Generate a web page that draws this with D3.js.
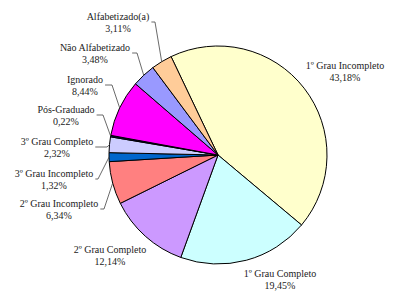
<!DOCTYPE html>
<html>
<head>
<meta charset="utf-8">
<script src="https://cdn.jsdelivr.net/npm/d3@7"></script>
<style>
body { margin: 0; background: #fff; }
text { font-family: "Liberation Serif", "Times New Roman", serif; font-size: 10px; fill: #222; }
</style>
</head>
<body>
<svg width="400" height="298"></svg>
<script>
// data, clockwise from the big slice
var categories = ["1º Grau Incompleto", "1º Grau Completo", "2º Grau Completo", "2º Grau Incompleto",
    "3º Grau Incompleto", "3º Grau Completo", "Pós-Graduado", "Ignorado", "Não Alfabetizado", "Alfabetizado(a)"];
var values = [43.18, 19.45, 12.14, 6.34, 1.32, 2.32, 0.22, 8.44, 3.48, 3.11];
var valueLabels = ["43,18%", "19,45%", "12,14%", "6,34%", "1,32%", "2,32%", "0,22%", "8,44%", "3,48%", "3,11%"];
var colors = ["#FFFFCC", "#CCFFFF", "#CC99FF", "#FF8080", "#0066CC", "#CCCCFF", "#000080", "#FF00FF", "#9999FF", "#FFCC99"];

// label layout: centre x, first line y, elbow x of leader (null = no leader)
var labelX = [345, 280, 110, 59, 54, 57, 66, 85, 95, 118];
var labelY = [65, 273, 249, 203, 173, 141, 109, 79, 47, 16];
var elbowX = [null, null, null, 104, 98, 107, 103, 112, 137, 155];

var svg = d3.select("svg");
var cx = 218, cy = 155, r = 109;

var g = svg.append("g").attr("transform", "translate(" + cx + "," + cy + ")");

var pie = d3.pie().sort(null)
    .startAngle(-25.5 * Math.PI / 180)
    .endAngle(334.5 * Math.PI / 180);
var arc = d3.arc().innerRadius(0).outerRadius(r);

var arcs = pie(values);

g.selectAll("path.slice")
    .data(arcs)
    .enter().append("path")
    .attr("class", "slice")
    .attr("d", arc)
    .attr("fill", function (d, i) { return colors[i]; })
    .attr("stroke", "#000")
    .attr("stroke-width", 1)
    .attr("stroke-linejoin", "round");

var labels = svg.selectAll("g.label")
    .data(arcs)
    .enter().append("g")
    .attr("class", "label");

labels.append("text")
    .attr("class", "name")
    .attr("x", function (d, i) { return labelX[i]; })
    .attr("y", function (d, i) { return labelY[i]; })
    .attr("text-anchor", "middle")
    .attr("dominant-baseline", "central")
    .text(function (d, i) { return categories[i]; });

labels.append("text")
    .attr("x", function (d, i) { return labelX[i]; })
    .attr("y", function (d, i) { return labelY[i] + 12; })
    .attr("text-anchor", "middle")
    .attr("dominant-baseline", "central")
    .text(function (d, i) { return valueLabels[i]; });

// leader lines from label to the slice edge
labels.each(function (d, i) {
    if (elbowX[i] === null) return;
    var w = d3.select(this).select("text.name").node().getComputedTextLength();
    var x0 = labelX[i] + w / 2 + 2;
    var y0 = labelY[i] + 6;
    var a = (d.startAngle + d.endAngle) / 2;
    var px = cx + r * Math.sin(a), py = cy - r * Math.cos(a);
    d3.select(this).append("polyline")
        .attr("points", [[x0, y0], [elbowX[i], y0], [px, py]].map(function (p) { return p.join(","); }).join(" "))
        .attr("fill", "none")
        .attr("stroke", "#444")
        .attr("stroke-width", 0.8);
});
</script>
</body>
</html>
